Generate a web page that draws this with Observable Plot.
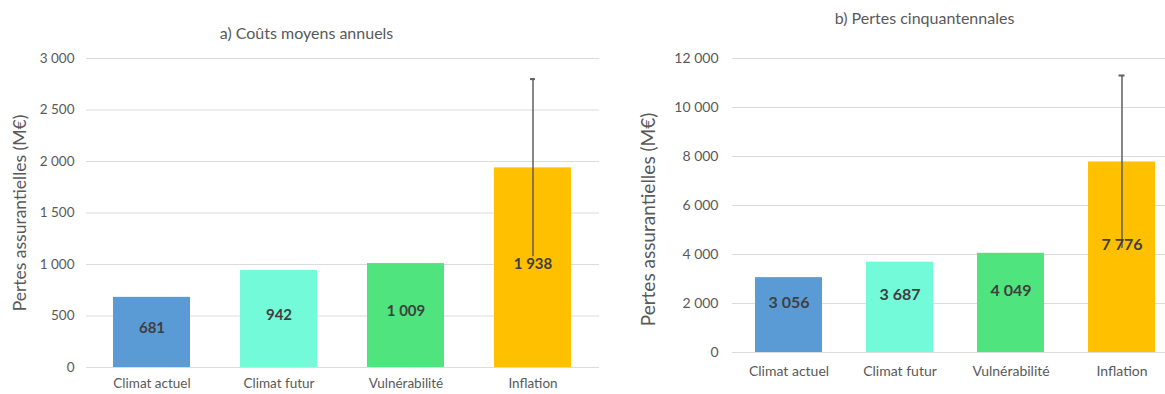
<!DOCTYPE html>
<html><head><meta charset="utf-8">
<script src="https://cdn.jsdelivr.net/npm/d3@7"></script>
<script src="https://cdn.jsdelivr.net/npm/@observablehq/plot@0.6"></script>
<style>
body{margin:0;background:#fff;}
#wrap{display:flex;width:1165px;height:394px;overflow:hidden;}
svg{font-family:Lato,"Open Sans",sans-serif;flex:none;}
</style></head><body><div id="wrap"></div>
<script>
const categories = ["Climat actuel", "Climat futur", "Vulnérabilité", "Inflation"];
const barColors = ["#5B9BD5", "#73FBD9", "#4FE47E", "#FFC000"];
const meanAnnual = [681, 942, 1009, 1938];
const meanAnnualErr = [null, null, null, 862];
const loss50 = [3056, 3687, 4049, 7776];
const loss50Err = [null, null, null, 3530];
const ticksA = [0, 500, 1000, 1500, 2000, 2500, 3000];
const ticksB = [0, 2000, 4000, 6000, 8000, 10000, 12000];
const titles = ["a) Coûts moyens annuels", "b) Pertes cinquantennales"];
const yLabel = "Pertes assurantielles (M€)";

const fmt = d3.formatLocale({decimal: ",", thousands: "\u00a0", grouping: [3], currency: ["", "€"]}).format(",");

function panel(cfg) {
  const rows = categories.map((c, i) => ({cat: c, value: cfg.values[i], err: cfg.errs[i]}));
  const errRows = rows.filter(d => d.err != null);
  return Plot.plot({
    width: cfg.width, height: 394,
    marginLeft: cfg.ml, marginRight: cfg.mr, marginTop: cfg.mt, marginBottom: cfg.mb,
    style: {fontFamily: "Lato, 'Open Sans', sans-serif", background: "#fff"},
    x: {type: "band", domain: categories, range: cfg.xr, paddingInner: cfg.pi, paddingOuter: cfg.pi / 2, axis: null},
    y: {domain: [0, cfg.ticks[cfg.ticks.length - 1]], axis: null},
    color: {domain: categories, range: barColors},
    marks: [
      Plot.gridY(cfg.ticks, {stroke: "#dcdcdc", strokeOpacity: 1, strokeWidth: 1}),
      Plot.barY(rows, {x: "cat", y: "value", fill: "cat"}),
      Plot.ruleX(errRows, {x: "cat", y1: d => d.value - d.err, y2: d => d.value + d.err, stroke: "#5f5f5f", strokeWidth: 1.5}),
      Plot.tickY(errRows, {x: "cat", y: d => d.value + d.err, stroke: "#5f5f5f", strokeWidth: 2, insetLeft: cfg.capInset, insetRight: cfg.capInset}),
      Plot.text(rows, {x: "cat", y: d => d.value / 2, text: d => fmt(d.value), fontWeight: "bold", fontSize: cfg.lblFs, fill: "#3f3f3f", dy: cfg.labelDy}),
      Plot.axisY({ticks: cfg.ticks, tickSize: 0, tickPadding: cfg.tp, tickFormat: fmt, fontSize: cfg.tickFs, fill: "#595959", label: null}),
      Plot.axisX({tickSize: 0, tickPadding: cfg.xtp, fontSize: cfg.catFs, fill: "#595959", label: null}),
      Plot.text([yLabel], {frameAnchor: "left", textAnchor: "middle", lineAnchor: "middle", rotate: -90, dx: cfg.ylDx, dy: cfg.ylDy, fontSize: cfg.ylFs, fill: "#595959"}),
      Plot.text([cfg.title], {frameAnchor: "top", textAnchor: "middle", lineAnchor: "middle", dx: cfg.tDx, dy: cfg.tDy, fontSize: 16, fill: "#595959"})
    ]
  });
}

const wrap = document.getElementById("wrap");
wrap.append(panel({
  values: meanAnnual, errs: meanAnnualErr, ticks: ticksA, title: titles[0],
  width: 600, ml: 86, mr: 1, mt: 58, mb: 27, xr: [87, 598], pi: 0.39, capInset: 36,
  lblFs: 15, tickFs: 13.5, catFs: 13.5,
  labelDy: -4, tp: 12, xtp: 11, ylDx: -66, ylDy: 0, ylFs: 17.5, tDx: -36.5, tDy: -25
}));
wrap.append(panel({
  values: loss50, errs: loss50Err, ticks: ticksB, title: titles[1],
  width: 565, ml: 132, mr: 0, mt: 58, mb: 42, xr: [131.8, 577], pi: 0.4, capInset: 30.5,
  lblFs: 16, tickFs: 14, catFs: 14,
  labelDy: -12, tp: 14, xtp: 14, ylDx: -84, ylDy: 14, ylFs: 19, tDx: -24.5, tDy: -40
}));
</script></body></html>
